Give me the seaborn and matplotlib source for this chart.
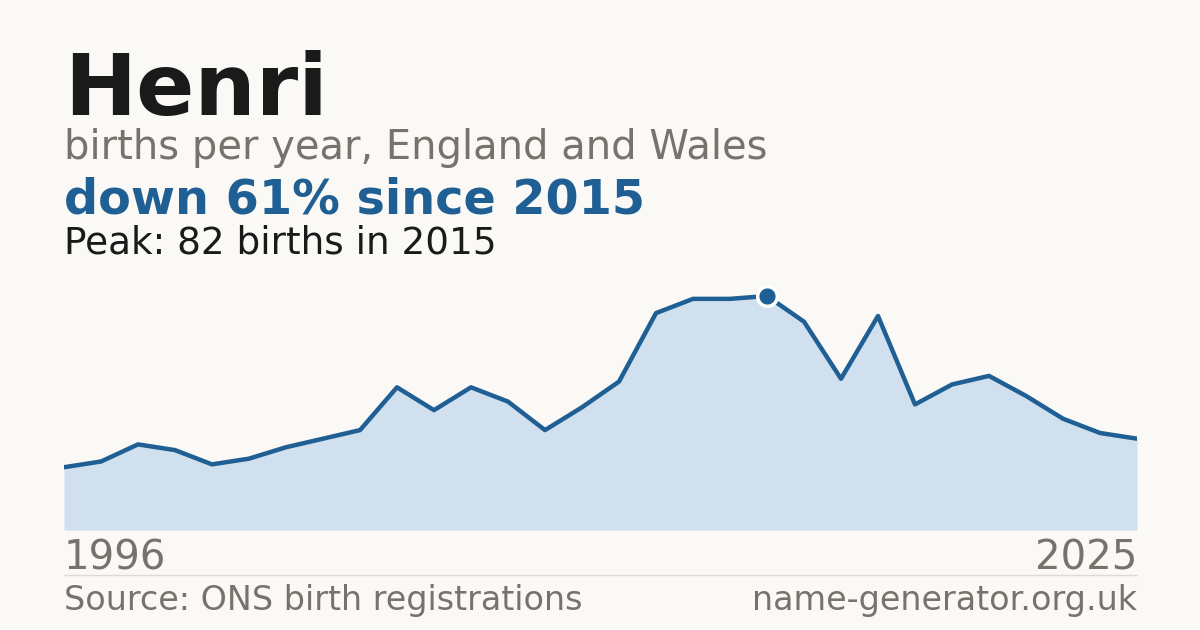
import numpy as np, pandas as pd
import seaborn as sns
import matplotlib.pyplot as plt

sns.set_theme(style="white")
plt.rcParams['font.family'] = ['DejaVu Sans']

# data
years = list(range(1996, 2026))
births = [22, 24, 30, 28, 23, 25, 29, 32, 35, 50,
          42, 50, 45, 35, 43, 52, 76, 81, 81, 82,
          73, 53, 75, 44, 51, 54, 47, 39, 34, 32]
peak_year = 2015
peak_value = 82

bg = "#faf9f5"
blue = "#1f5f94"
fill = "#d0e0ef"
grey = "#77736c"
dark = "#1a1a1a"

df = pd.DataFrame({"year": years, "births": births})

fig = plt.figure(figsize=(12, 6.3), dpi=100, facecolor=bg)
ax = fig.add_axes([64/1200, 100/630, 1073/1200, 260/630])
ax.set_facecolor(bg)

ax.fill_between(df["year"], df["births"], 0, color=fill, lw=0)
sns.lineplot(data=df, x="year", y="births", ax=ax, color=blue, lw=3.2)
ax.scatter([peak_year], [peak_value], s=200, color=blue, edgecolor="white",
           linewidth=2.5, zorder=5)

ax.set_xlim(years[0], years[-1])
ax.set_ylim(0, peak_value / 0.9)
ax.axis("off")

# headings
fig.text(64/1200, 1 - 115/630, "Henri", fontsize=62, fontweight="bold", color=dark)
fig.text(64/1200, 1 - 159/630, "births per year, England and Wales", fontsize=28.8, color=grey)
fig.text(64/1200, 1 - 213/630, "down 61% since 2015", fontsize=34.4, fontweight="bold", color=blue)
fig.text(64/1200, 1 - 253/630, "Peak: 82 births in 2015", fontsize=26.9, color=dark)

# year labels and footer
fig.text(64/1200, 1 - 569/630, str(years[0]), fontsize=29, color=grey)
fig.text(1137/1200, 1 - 569/630, str(years[-1]), fontsize=29, color=grey, ha="right")
fig.add_artist(plt.Line2D([64/1200, 1137/1200], [1 - 574.5/630, 1 - 574.5/630],
                          color="#dddbd5", lw=1))
fig.text(64/1200, 1 - 610/630, "Source: ONS birth registrations", fontsize=24, color=grey)
fig.text(1137/1200, 1 - 610/630, "name-generator.org.uk", fontsize=24, color=grey, ha="right")

fig.savefig("out.png", dpi=100, facecolor=bg)
